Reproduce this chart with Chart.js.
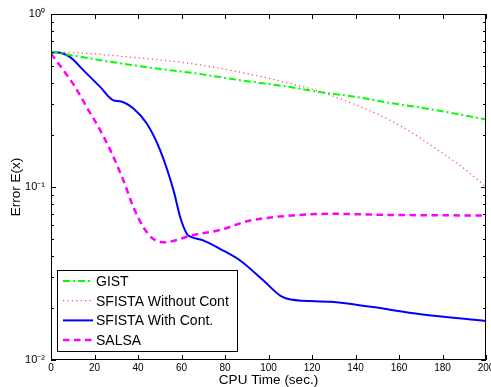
<!DOCTYPE html>
<html>
<head>
<meta charset="utf-8">
<script src="https://cdn.jsdelivr.net/npm/chart.js@4.4.1/dist/chart.umd.min.js"></script>
<style>
html, body { margin: 0; padding: 0; background: #fff; }
canvas { display: block; }
</style>
</head>
<body>
<canvas id="errChart" width="491" height="387"></canvas>
<script>
const xTicks = [0, 20, 40, 60, 80, 100, 120, 140, 160, 180, 200];
const yTickValues = [0.01, 0.1, 1];
const yTickLabels = ['10⁻²', '10⁻¹', '10⁰'];

const seriesNames = ['GIST', 'SFISTA Without Cont', 'SFISTA With Cont.', 'SALSA'];

const gistX = [0, 4, 22.6, 45.6, 67, 87, 107, 124, 138, 156, 175, 200];
const gistY = [0.60, 0.592, 0.541, 0.489, 0.453, 0.414, 0.383, 0.353, 0.335, 0.306, 0.281, 0.246];

const sfistaX = [0, 6, 30, 67, 92, 110, 124, 136, 152, 161, 170, 179, 188.5, 197.7, 200];
const sfistaY = [0.60, 0.60, 0.573, 0.511, 0.447, 0.396, 0.355, 0.313, 0.257, 0.224, 0.191, 0.160, 0.132, 0.106, 0.100];

const contX = [0, 3, 8.8, 14.9, 22.6, 28.7, 31.8, 37.9, 44.1, 50.2, 56.4, 59.4, 62.5, 64.1, 70.2, 77.9, 87.1, 97.8, 105.5, 110.1, 128.6, 147, 170, 200];
const contY = [0.60, 0.60, 0.563, 0.473, 0.379, 0.317, 0.313, 0.284, 0.232, 0.163, 0.095, 0.0668, 0.0535, 0.0516, 0.049, 0.0438, 0.0375, 0.0287, 0.0235, 0.0224, 0.0217, 0.0203, 0.0184, 0.0168];

const salsaX = [0, 5.7, 11.1, 16.4, 22.6, 27.2, 33.3, 37.9, 42.5, 47.1, 51.8, 57.9, 64.1, 77.9, 90.2, 105.5, 128.6, 155, 200];
const salsaY = [0.59, 0.473, 0.379, 0.290, 0.213, 0.164, 0.109, 0.0764, 0.0585, 0.050, 0.0479, 0.0494, 0.0524, 0.0565, 0.0634, 0.0675, 0.070, 0.069, 0.0684];

const FONT = '"Liberation Sans", Arial, Helvetica, sans-serif';

function pts(xs, ys) {
    return xs.map((x, i) => ({ x: x, y: ys[i] }));
}

// box round the plot with inward ticks, like matlab
const frame = {
    id: 'frame',
    afterDatasetsDraw(chart) {
        const { ctx, chartArea: a, scales: { x, y } } = chart;
        ctx.save();
        ctx.strokeStyle = '#000';
        ctx.lineWidth = 1;
        ctx.beginPath();
        xTicks.forEach(v => {
            const px = Math.round(x.getPixelForValue(v)) + 0.5;
            ctx.moveTo(px, a.bottom); ctx.lineTo(px, a.bottom - 5);
            ctx.moveTo(px, a.top); ctx.lineTo(px, a.top + 5);
        });
        for (let d = -2; d < 0; d++) {
            for (let m = 1; m < 10; m++) {
                const len = m === 1 ? 5 : 3;
                const py = Math.round(y.getPixelForValue(m * Math.pow(10, d))) + 0.5;
                ctx.moveTo(a.left, py); ctx.lineTo(a.left + len, py);
                ctx.moveTo(a.right, py); ctx.lineTo(a.right - len, py);
            }
        }
        ctx.stroke();
        ctx.strokeRect(a.left + 0.5, a.top + 0.5, a.right - a.left - 1, a.bottom - a.top - 1);
        ctx.restore();
    }
};

const boxLegend = {
    id: 'boxLegend',
    afterDraw(chart) {
        const { ctx, chartArea: a } = chart;
        const left = a.left + 6, top = a.bottom - 90, w = 180, h = 81;
        ctx.save();
        ctx.fillStyle = '#fff';
        ctx.fillRect(left, top, w, h);
        ctx.strokeStyle = '#000';
        ctx.lineWidth = 1;
        ctx.strokeRect(left + 0.5, top + 0.5, w, h);
        ctx.font = '14px ' + FONT;
        ctx.textBaseline = 'middle';
        chart.data.datasets.forEach((ds, i) => {
            const ry = top + 11 + i * 19.7;
            ctx.beginPath();
            ctx.strokeStyle = ds.borderColor;
            ctx.lineWidth = ds.borderWidth;
            ctx.setLineDash(ds.borderDash || []);
            ctx.moveTo(left + 6, ry);
            ctx.lineTo(left + 36, ry);
            ctx.stroke();
            ctx.setLineDash([]);
            ctx.fillStyle = '#000';
            ctx.fillText(ds.label, left + 39, ry + 1);
        });
        ctx.restore();
    }
};

const ctx = document.getElementById('errChart').getContext('2d');
const errChart = new Chart(ctx, {
    type: 'line',
    data: {
        datasets: [{
            label: seriesNames[0],
            data: pts(gistX, gistY),
            borderColor: '#00ff00',
            borderWidth: 2,
            borderDash: [7, 3, 2, 3]
        }, {
            label: seriesNames[1],
            data: pts(sfistaX, sfistaY),
            borderColor: 'rgba(255,0,0,0.7)',
            borderWidth: 1.3,
            borderDash: [1.2, 3.2]
        }, {
            label: seriesNames[2],
            data: pts(contX, contY),
            borderColor: '#0000ff',
            borderWidth: 2
        }, {
            label: seriesNames[3],
            data: pts(salsaX, salsaY),
            borderColor: '#ff00ff',
            borderWidth: 2.5,
            borderDash: [6.5, 4.5]
        }]
    },
    options: {
        responsive: false,
        animation: false,
        devicePixelRatio: 1,
        elements: {
            point: { radius: 0 },
            line: { cubicInterpolationMode: 'monotone', fill: false }
        },
        layout: { padding: { top: 14, right: 5, bottom: 0, left: 0 } },
        plugins: {
            legend: { display: false },
            tooltip: { enabled: false }
        },
        scales: {
            x: {
                type: 'linear',
                min: 0,
                max: 200,
                afterBuildTicks: s => { s.ticks = xTicks.map(v => ({ value: v })); },
                grid: { display: false, drawTicks: false },
                border: { display: false },
                ticks: { font: { family: FONT, size: 10 }, color: '#000', padding: 2, maxRotation: 0, autoSkip: false },
                title: {
                    display: true,
                    text: 'CPU Time (sec.)',
                    color: '#000',
                    font: { family: FONT, size: 13.5, lineHeight: 1 },
                    padding: { top: 0, bottom: 0 }
                },
                afterFit: s => { s.height = 27; s.paddingLeft = 0; s.paddingRight = 0; }
            },
            y: {
                type: 'logarithmic',
                min: 0.01,
                max: 1,
                afterBuildTicks: s => { s.ticks = yTickValues.map(v => ({ value: v })); },
                grid: { display: false, drawTicks: false },
                border: { display: false },
                ticks: {
                    font: { family: FONT, size: 11 },
                    color: '#000',
                    padding: 6,
                    autoSkip: false,
                    callback: v => yTickLabels[yTickValues.indexOf(v)]
                },
                title: {
                    display: true,
                    text: 'Error E(x)',
                    color: '#000',
                    font: { family: FONT, size: 13.5 },
                    padding: { top: 8, bottom: 0 }
                },
                afterFit: s => { s.width = 51; s.paddingTop = 0; s.paddingBottom = 0; }
            }
        }
    },
    plugins: [frame, boxLegend]
});
</script>
</body>
</html>
